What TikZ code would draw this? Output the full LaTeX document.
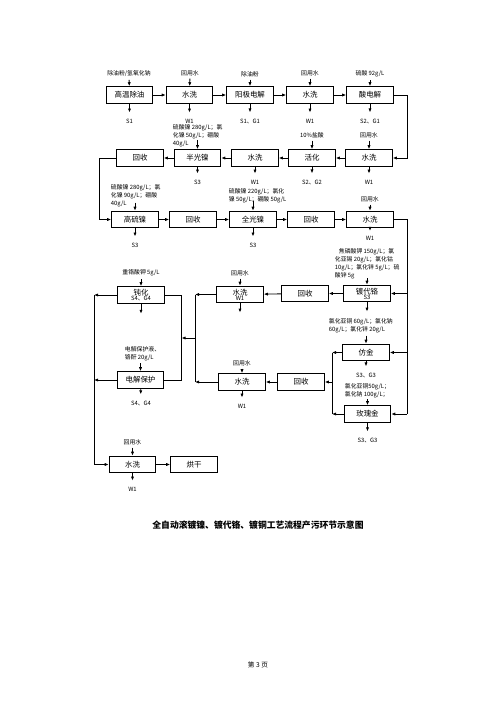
\documentclass[tikz,border=0pt]{standalone}
\usepackage{fontspec}
\setmainfont{Noto Sans CJK SC}
\usetikzlibrary{arrows.meta}
\begin{document}
\begin{tikzpicture}[x=0.75pt,y=-0.75pt,
  box/.style={draw,line width=0.65pt,minimum width=35pt,minimum height=12.5pt,inner sep=0pt,align=center,font=\fontsize{5.6}{6}\selectfont},
  ann/.style={inner sep=0.5pt,align=left,font=\fontsize{4.4}{5.8}\selectfont},
  flow/.style={line width=0.65pt,-{Latex[length=3pt,width=2.4pt]}},
  ln/.style={line width=0.65pt},
  inar/.style={flow,shorten <=1.5pt},
  outar/.style={flow,shorten >=4pt}]
\useasboundingbox[fill=white] (0,0) rectangle (500,707);
\newcommand{\sub}[1]{\\[-2.2pt]{\fontsize{4.4}{4.4}\selectfont #1}}

% ---------- row 1 ----------
\node[box] (r1a) at (129.5,95) {高温除油};
\node[box] (r1b) at (189.5,95) {水洗};
\node[box] (r1c) at (250,95) {阳极电解};
\node[box] (r1d) at (310,95) {水洗};
\node[box] (r1e) at (370,95) {酸电解};
\foreach \a/\b in {r1a/r1b,r1b/r1c,r1c/r1d,r1d/r1e} \draw[flow] (\a) -- (\b);
\node[ann] (i1a) at (129,74) {除油粉/氢氧化钠};
\node[ann] (i1b) at (190,73) {回用水};
\node[ann] (i1c) at (250,74) {除油粉};
\node[ann] (i1d) at (310,73) {回用水};
\node[ann] (i1e) at (370,74) {硫酸 92g/L};
\node[ann] (o1a) at (129.5,121) {S1};
\node[ann] (o1b) at (189.5,121) {W1};
\node[ann] (o1c) at (250,121) {S1、G1};
\node[ann] (o1d) at (310,121) {W1};
\node[ann] (o1e) at (370,121) {S2、G1};
\foreach \x in {a,b,c,d,e} {
  \draw[inar] (i1\x) -- (r1\x);
  \draw[outar] (r1\x) -- (o1\x);
}

% ---------- row 2 ----------
\node[box] (r2a) at (140,158) {回收};
\node[box] (r2b) at (197.5,158) {半光镍};
\node[box] (r2c) at (255,158) {水洗};
\node[box] (r2d) at (312,158) {活化};
\node[box] (r2e) at (369,158) {水洗};
\foreach \a/\b in {r2e/r2d,r2d/r2c,r2c/r2b,r2b/r2a} \draw[flow] (\a) -- (\b);
\draw[flow] (r1e.east) -- ++(14,0) |- (r2e.east);
\node[ann,anchor=north west] (i2b) at (172,124) {硫酸镍 280g/L；氯\\化镍 50g/L；硼酸\\40g/L};
\draw[flow] ([yshift=7pt]r2b.north) -- (r2b.north);
\node[ann] (i2d) at (312,135) {10\%盐酸};
\node[ann] (i2e) at (369,135) {回用水};
\draw[inar] (i2d) -- (r2d);
\draw[inar] (i2e) -- (r2e);
\node[ann] (o2b) at (197.5,182) {S3};
\node[ann] (o2c) at (255,182) {W1};
\node[ann] (o2d) at (312,182) {S2、G2};
\node[ann] (o2e) at (369,182) {W1};
\foreach \x in {b,c,d,e} \draw[outar] (r2\x) -- (o2\x);

% ---------- row 3 ----------
\node[box] (r3a) at (135,219.5) {高硫镍};
\node[box] (r3b) at (193,219.5) {回收};
\node[box] (r3c) at (253,219.5) {全光镍};
\node[box] (r3d) at (311,219.5) {回收};
\node[box] (r3e) at (370,219.5) {水洗};
\foreach \a/\b in {r3a/r3b,r3b/r3c,r3c/r3d,r3d/r3e} \draw[flow] (\a) -- (\b);
\draw[flow] (r2a.west) -- ++(-17,0) |- (r3a.west);
\node[ann,anchor=north west] (i3a) at (110,184) {硫酸镍 280g/L；氯\\化镍 90g/L；硼酸\\40g/L};
\draw[flow] ([yshift=6pt]r3a.north) -- (r3a.north);
\node[ann,anchor=north west] (i3c) at (228,188) {硫酸镍 220g/L；氯化\\镍 50g/L；硼酸 50g/L};
\draw[flow] ([yshift=7pt]r3c.north) -- (r3c.north);
\node[ann] (i3e) at (370,199) {回用水};
\draw[inar] (i3e) -- (r3e);
\node[ann] (o3a) at (135,245) {S3};
\node[ann] (o3c) at (253,245) {S3};
\node[ann] (o3e) at (370,238) {W1};
\draw[outar] (r3a) -- (o3a);
\draw[outar] (r3c) -- (o3c);
\draw[flow,shorten >=3pt] (r3e) -- (o3e);

% right trunk
\coordinate (R) at (407,219.5);
\coordinate (Rb) at (407,414);
\draw[ln] (r3e.east) -- (R) -- (Rb);

% ---------- row 4 ----------
\node[box] (dc) at (367,293.5) {镀代铬\sub{S3}};
\node[box] (rc) at (305,293.5) {回收};
\node[box] (rw) at (240,294.5) {水洗\sub{W1}};
\node[box] (dh) at (141,295) {钝化\sub{S4、G4}};
\draw[flow] (dc.east -| R) -- (dc.east);
\draw[flow] (dc) -- (rc);
\draw[flow] (rc) -- (rw);
\node[ann,anchor=north west] (idc) at (334,248) {\hspace{3pt}焦磷酸钾 150g/L；氯\\化亚锡 20g/L；氯化钴\\10g/L；氯化锌 5g/L；硫\\酸锌 5g};
\draw[flow] ([yshift=5pt]dc.north) -- (dc.north);
\node[ann] (irw) at (240,273) {回用水};
\draw[inar] (irw) -- (rw);
\node[ann] (idh) at (141,273) {重铬酸钾 5g/L};
\draw[inar] (idh) -- (dh);
\draw[flow] (dc.south) -- ([yshift=-7pt]dc.south);
\draw[flow] (rw.south) -- ([yshift=-7pt]rw.south);
\draw[flow] (dh.south) -- ([yshift=-7.5pt]dh.south);

% ---------- electro protection ----------
\node[box] (ep) at (140.5,380) {电解保护};
\node[ann,anchor=north west] (iep) at (124,346) {电解保护液、\\铬酐 20g/L};
\draw[flow] ([yshift=6pt]ep.north) -- (ep.north);
\node[ann] (oep) at (141,403) {S4、G4};
\draw[outar] (ep) -- (oep);

% ---------- lower middle ----------
\node[box] (bmw) at (242,382) {水洗};
\node[box] (brc) at (301,382) {回收};
\draw[flow] (brc) -- (bmw);
\node[ann] (ibmw) at (242,363) {回用水};
\draw[inar] (ibmw) -- (bmw);
\node[ann] (obmw) at (242,406) {W1};
\draw[outar] (bmw) -- (obmw);

% ---------- right: gold ----------
\node[box] (fj) at (366,352.5) {仿金};
\node[box] (mg) at (367.5,414) {玫瑰金};
\draw[flow] (fj.east -| R) -- (fj.east);
\draw[flow] (Rb) -- (mg.east);
\node[ann,anchor=north west] (ifj) at (328,318) {氯化亚铜 60g/L；氯化钠\\60g/L；氯化锌 20g/L};
\draw[flow] ([yshift=6pt]fj.north) -- (fj.north);
\node[ann] (ofj) at (366,375) {S3、G3};
\draw[outar] (fj) -- (ofj);
\node[ann,anchor=north west] (img) at (344,383) {氯化亚铜50g/L；\\氯化钠 100g/L；};
\draw[flow] ([yshift=4.5pt]mg.north) -- (mg.north);
\node[ann] (omg) at (367.5,440) {S3、G3};
\draw[outar] (mg) -- (omg);
\coordinate (V) at (332,382);
\draw[flow] (fj.west) -- (fj.west -| V);
\draw[flow] (mg.west) -- (mg.west -| V);
\draw[ln] (fj.west -| V) -- (mg.west -| V);
\draw[flow] (V) -- (brc.east);

% ---------- middle collectors ----------
\coordinate (M1) at (181.5,338);
\coordinate (M2) at (195,338);
\draw[ln] (dh.east) -- (dh.east -| M1) -- (ep.east -| M1) -- (ep.east);
\draw[flow] (rw.west) -- (rw.west -| M2);
\draw[flow] (bmw.west) -- (bmw.west -| M2);
\draw[ln] (rw.west -| M2) -- (bmw.west -| M2);
\draw[flow] (M2) -- (M1);

% ---------- final rinse and dry ----------
\node[box] (bw) at (132.5,464.5) {水洗};
\node[box] (hg) at (194,464.5) {烘干};
\draw[flow] (bw) -- (hg);
\node[ann] (ibw) at (132.5,442) {回用水};
\draw[inar] (ibw) -- (bw);
\node[ann] (obw) at (132.5,489) {W1};
\draw[outar] (bw) -- (obw);
\coordinate (L1) at (94,295);
\coordinate (L2) at (94,464.5);
\draw[flow] (dh.west) -- (dh.west -| L1);
\draw[flow] (ep.west) -- (ep.west -| L1);
\draw[ln] (L1) -- (L2);
\draw[flow] (L2) -- (bw.west);

% ---------- title & footer ----------
\node[font=\bfseries\fontsize{6.6}{7}\selectfont] (title) at (258,525) {全自动滚镀镍、镀代铬、镀铜工艺流程产污环节示意图};
\node[font=\fontsize{5}{6}\selectfont] (pg) at (258,665) {第 3 页};
\end{tikzpicture}
\end{document}
